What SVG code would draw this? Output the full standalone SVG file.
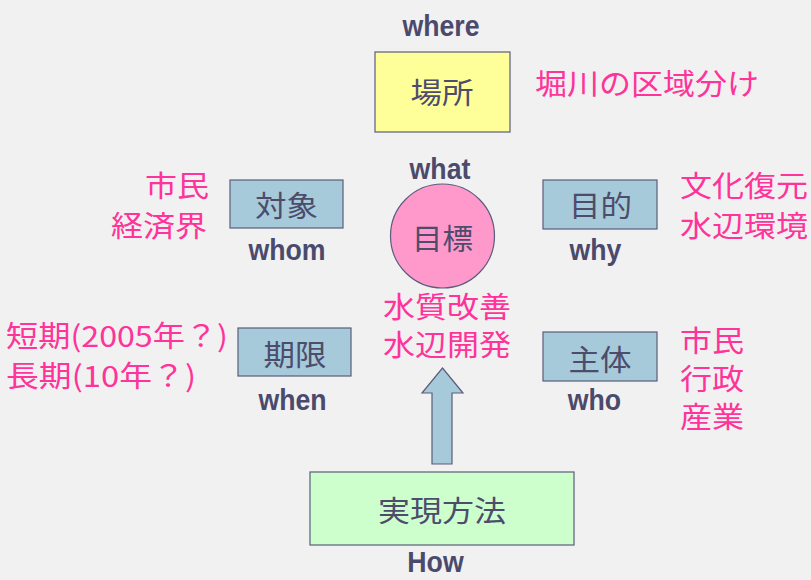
<svg xmlns="http://www.w3.org/2000/svg" width="811" height="580" viewBox="0 0 811 580">
<defs>
<style>
.bg{fill:#f1f1f1}
.box{stroke:#5c5c7c;stroke-width:1.2}
.blue{fill:#a6cad9}
.lbl{font-family:"Liberation Sans",Arial,sans-serif;font-weight:bold;font-size:30px;fill:#4b4a6c;text-anchor:middle}
.jp{font-family:"Noto Sans CJK JP","Noto Sans CJK SC",sans-serif;font-size:29px;fill:#4d4c6c}
.pk{font-family:"Noto Sans CJK JP","Noto Sans CJK SC",sans-serif;font-size:29px;fill:#ff3399}
</style>
</defs>
<rect class="bg" x="0" y="0" width="811" height="580"/>

<g id="connectors">
<polygon points="442.5,368 463,393 452,393 452,464 432,464 432,393 422,393" fill="#a6cad9" stroke="#5c5c7c" stroke-width="1.2"/>
</g>

<g id="where">
<text class="lbl" transform="translate(441,36) scale(0.89,1)">where</text>
<rect class="box" x="375" y="52" width="135" height="80" fill="#ffff99"/>
<text class="jp" x="410.5" y="104" textLength="63" lengthAdjust="spacingAndGlyphs">場所</text>
<text class="pk" x="535" y="95" textLength="224" lengthAdjust="spacingAndGlyphs">堀川の区域分け</text>
</g>

<g id="what">
<text class="lbl" transform="translate(440,179) scale(0.89,1)">what</text>
<circle class="box" cx="442.5" cy="236" r="52" fill="#ff99cc"/>
<text class="jp" x="412" y="250" textLength="61" lengthAdjust="spacingAndGlyphs">目標</text>
<text class="pk" x="383" y="318" textLength="128" lengthAdjust="spacingAndGlyphs">水質改善</text>
<text class="pk" x="383" y="356" textLength="128" lengthAdjust="spacingAndGlyphs">水辺開発</text>
</g>

<g id="whom">
<rect class="box blue" x="230" y="180" width="113" height="48"/>
<text class="jp" x="255" y="217" textLength="63" lengthAdjust="spacingAndGlyphs">対象</text>
<text class="lbl" transform="translate(287,260) scale(0.89,1)">whom</text>
<text class="pk" x="145" y="197" textLength="64" lengthAdjust="spacingAndGlyphs">市民</text>
<text class="pk" x="111" y="237" textLength="96" lengthAdjust="spacingAndGlyphs">経済界</text>
</g>

<g id="why">
<rect class="box blue" x="543" y="180" width="114" height="49"/>
<text class="jp" x="569" y="217" textLength="63" lengthAdjust="spacingAndGlyphs">目的</text>
<text class="lbl" transform="translate(595.5,260) scale(0.89,1)">why</text>
<text class="pk" x="680" y="197" textLength="128" lengthAdjust="spacingAndGlyphs">文化復元</text>
<text class="pk" x="680" y="237" textLength="128" lengthAdjust="spacingAndGlyphs">水辺環境</text>
</g>

<g id="when">
<rect class="box blue" x="238" y="328" width="113" height="48"/>
<text class="jp" x="263.5" y="366" textLength="63" lengthAdjust="spacingAndGlyphs">期限</text>
<text class="lbl" transform="translate(292.5,410) scale(0.89,1)">when</text>
<text class="pk" x="6" y="347" textLength="222" lengthAdjust="spacingAndGlyphs">短期(2005年？)</text>
<text class="pk" x="6" y="387" textLength="190" lengthAdjust="spacingAndGlyphs">長期(10年？)</text>
</g>

<g id="who">
<rect class="box blue" x="543" y="332" width="114" height="49"/>
<text class="jp" x="568.5" y="371" textLength="63" lengthAdjust="spacingAndGlyphs">主体</text>
<text class="lbl" transform="translate(594.5,410) scale(0.89,1)">who</text>
<text class="pk" x="680" y="352" textLength="64" lengthAdjust="spacingAndGlyphs">市民</text>
<text class="pk" x="680" y="390" textLength="64" lengthAdjust="spacingAndGlyphs">行政</text>
<text class="pk" x="680" y="428" textLength="64" lengthAdjust="spacingAndGlyphs">産業</text>
</g>

<g id="how">
<rect class="box" x="310" y="472" width="264" height="73" fill="#ccffcc"/>
<text class="jp" x="378" y="522" textLength="128" lengthAdjust="spacingAndGlyphs">実現方法</text>
<text class="lbl" transform="translate(435.5,572) scale(0.89,1)">How</text>
</g>
</svg>
